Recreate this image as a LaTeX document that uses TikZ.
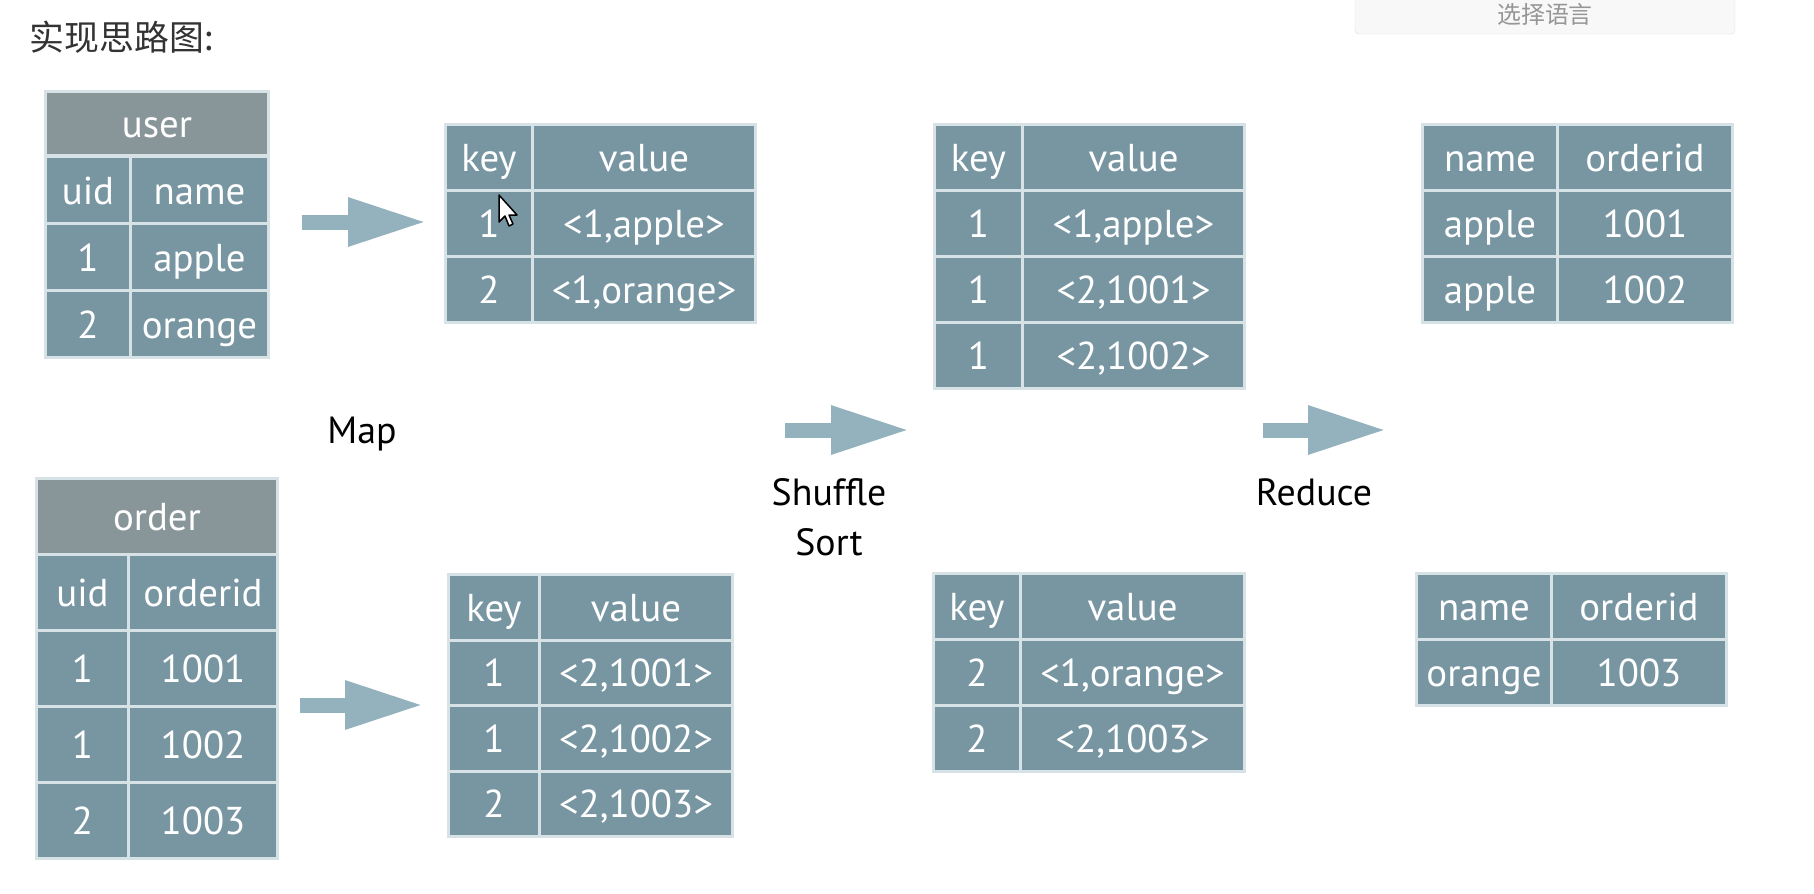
\documentclass[tikz,border=0pt]{standalone}
\usepackage{fontspec}
\setmainfont{PT Sans}
\newfontfamily\cjk{Noto Sans CJK SC}
\usetikzlibrary{arrows.meta}
\definecolor{cellblue}{RGB}{120,150,162}
\definecolor{headgray}{RGB}{137,150,153}
\definecolor{gridline}{RGB}{214,226,230}
\definecolor{arrowblue}{RGB}{148,178,189}
\definecolor{titlegray}{RGB}{51,51,51}
\definecolor{langgray}{RGB}{150,150,150}
\definecolor{langfill}{RGB}{248,248,248}

\begin{document}
\begin{tikzpicture}[x=1bp, y=-1bp,
  cell/.style={rectangle, fill=cellblue, draw=gridline, line width=3bp, text=white, inner sep=0pt, anchor=north west, text height=32bp, text depth=4bp, font=\fontsize{39}{40}\selectfont},
  headcell/.style={cell, fill=headgray},
  phase/.style={font=\fontsize{38}{50}\selectfont, inner sep=0pt},
  bigarrow/.style={draw=arrowblue, line width=15bp, -{Triangle[length=79bp, width=45bp]}},
  langbox/.style={rectangle, rounded corners=4bp, fill=langfill, draw=black!12, minimum width=380bp, minimum height=60bp}
]
\useasboundingbox (0,0) rectangle (1814,894);
\clip (0,0) rectangle (1814,894);

\node[anchor=center, inner sep=0pt, text=titlegray, font=\cjk\fontsize{35}{36}\selectfont] (title) at (122,37) {实现思路图:};
\node[langbox] (lang) at (1545,4) {};
\node[inner sep=0pt, text=langgray, font=\cjk\fontsize{24}{26}\selectfont] (langtext) at (1545,14) {选择语言};

% input tables
\node[headcell, minimum width=223bp, minimum height=64bp] (user) at (44,90) {user};
\foreach \a/\b [count=\i from 0] in {uid/name, 1/apple, 2/orange} {
  \node[cell, minimum width=85bp, minimum height=67bp] (user-a\i) at (44,155+67*\i) {\a};
  \node[cell, minimum width=138bp, minimum height=67bp] (user-b\i) at (129,155+67*\i) {\b};
}
\node[headcell, minimum width=241bp, minimum height=76bp] (order) at (35,477) {order};
\foreach \a/\b [count=\i from 0] in {uid/orderid, 1/1001, 1/1002, 2/1003} {
  \node[cell, minimum width=92bp, minimum height=76bp] (order-a\i) at (35,553+76*\i) {\a};
  \node[cell, minimum width=149bp, minimum height=76bp] (order-b\i) at (127,553+76*\i) {\b};
}

% map output
\foreach \a/\b [count=\i from 0] in {key/value, 1/{<1,apple>}, 2/{<1,orange>}} {
  \node[cell, minimum width=87bp, minimum height=66bp] (map1-a\i) at (444,123+66*\i) {\a};
  \node[cell, minimum width=223bp, minimum height=66bp] (map1-b\i) at (531,123+66*\i) {\b};
}
\foreach \a/\b [count=\i from 0] in {key/value, 1/{<2,1001>}, 1/{<2,1002>}, 2/{<2,1003>}} {
  \node[cell, minimum width=91bp, minimum height=65.5bp] (map2-a\i) at (447,573+65.5*\i) {\a};
  \node[cell, minimum width=193bp, minimum height=65.5bp] (map2-b\i) at (538,573+65.5*\i) {\b};
}

% shuffle output
\foreach \a/\b [count=\i from 0] in {key/value, 1/{<1,apple>}, 1/{<2,1001>}, 1/{<2,1002>}} {
  \node[cell, minimum width=88bp, minimum height=66bp] (shuf1-a\i) at (933,123+66*\i) {\a};
  \node[cell, minimum width=222bp, minimum height=66bp] (shuf1-b\i) at (1021,123+66*\i) {\b};
}
\foreach \a/\b [count=\i from 0] in {key/value, 2/{<1,orange>}, 2/{<2,1003>}} {
  \node[cell, minimum width=87bp, minimum height=66bp] (shuf2-a\i) at (932,572+66*\i) {\a};
  \node[cell, minimum width=224bp, minimum height=66bp] (shuf2-b\i) at (1019,572+66*\i) {\b};
}

% reduce output
\foreach \a/\b [count=\i from 0] in {name/orderid, apple/1001, apple/1002} {
  \node[cell, minimum width=135bp, minimum height=66bp] (res1-a\i) at (1421,123+66*\i) {\a};
  \node[cell, minimum width=175bp, minimum height=66bp] (res1-b\i) at (1556,123+66*\i) {\b};
}
\foreach \a/\b [count=\i from 0] in {name/orderid, orange/1003} {
  \node[cell, minimum width=135bp, minimum height=66bp] (res2-a\i) at (1415,572+66*\i) {\a};
  \node[cell, minimum width=175bp, minimum height=66bp] (res2-b\i) at (1550,572+66*\i) {\b};
}

% phases
\coordinate (map-s1) at (302,222);
\coordinate (map-e1) at (427,222);
\coordinate (map-s2) at (300,705);
\coordinate (map-e2) at (424,705);
\coordinate (shuffle-s) at (785,430);
\coordinate (shuffle-e) at (910,430);
\coordinate (reduce-s) at (1263,430);
\coordinate (reduce-e) at (1387,430);
\draw[bigarrow] (map-s1) -- (map-e1);
\draw[bigarrow] (map-s2) -- (map-e2);
\draw[bigarrow] (shuffle-s) -- (shuffle-e);
\draw[bigarrow] (reduce-s) -- (reduce-e);
\node[phase, anchor=base] (map) at (362,443) {Map};
\node[phase, align=center] (shuffle) at (829,517) {Shuffle\\Sort};
\node[phase, anchor=base] (reduce) at (1314,505) {Reduce};

% mouse pointer
\draw[fill=white, line width=1.5bp, line join=round] (499,195) -- ++(0,27) -- ++(6,-6) -- ++(4,10) -- ++(4,-2) -- ++(-4,-9) -- ++(8,0) -- cycle;
\end{tikzpicture}
\end{document}
